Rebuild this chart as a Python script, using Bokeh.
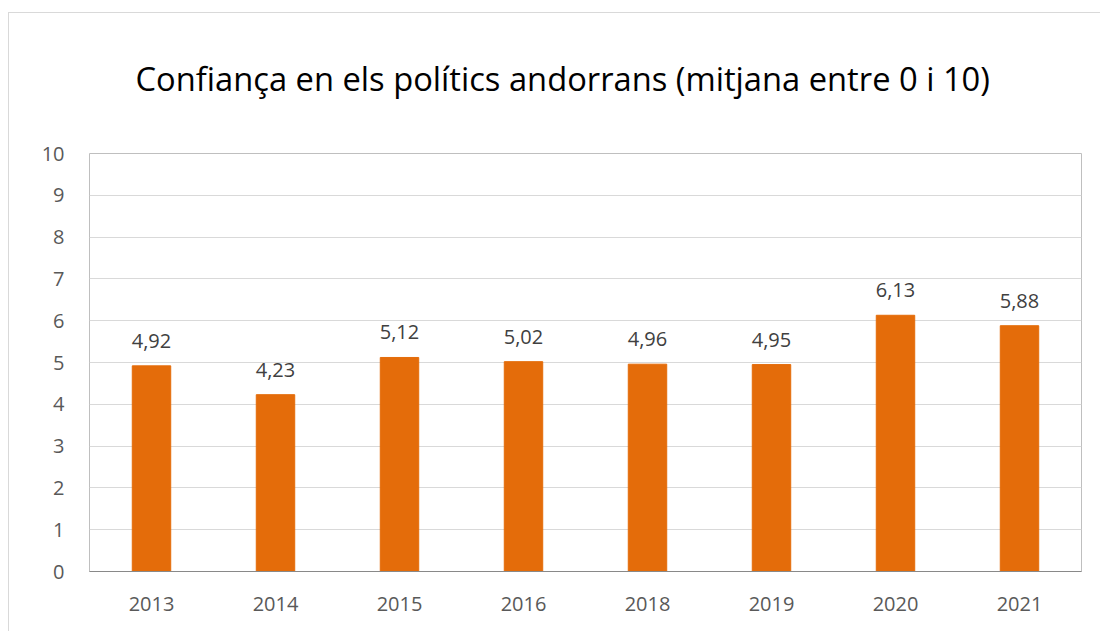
from bokeh.plotting import figure
from bokeh.models import ColumnDataSource, FixedTicker, Range1d, Title
from bokeh.core.properties import value
from bokeh.embed import file_html
from bokeh.resources import INLINE

years = ["2013", "2014", "2015", "2016", "2018", "2019", "2020", "2021"]
means = [4.92, 4.23, 5.12, 5.02, 4.96, 4.95, 6.13, 5.88]
labels = [f"{v:.2f}".replace(".", ",") for v in means]
y_ticks = list(range(0, 11))
title_text = "Confiança en els polítics andorrans (mitjana entre 0 i 10)"

FONT = "Open Sans"
TXT = "#595959"

src = ColumnDataSource(dict(year=years, mean=means, label=labels))

p = figure(
    x_range=years, y_range=Range1d(0, 10),
    width=1092, height=619,
    output_backend="svg", toolbar_location=None,
    title=title_text,
    min_border_left=80, min_border_right=20, min_border_top=140, min_border_bottom=61,
)
p.styles = {"margin-top": "12px", "margin-left": "8px",
            "border-left": "1px solid #d9d9d9", "border-top": "1px solid #d9d9d9"}

p.title.align = "left"
p.title.offset = 46
p.title.standoff = 10
p.title.text_font = FONT
p.title.text_font_size = "32.7px"
p.title.text_font_style = "normal"
p.title.text_color = "#000000"

# blank spacer between the title and the plot frame
p.add_layout(Title(text=" ", text_font=FONT, text_font_size="26px", standoff=10), "above")

p.vbar(x="year", top="mean", width=0.31, source=src, color="#E46C0A")
p.text(x="year", y="mean", text="label", source=src,
       text_align="center", text_baseline="bottom", y_offset=-18,
       text_font=value(FONT), text_font_size="20px", text_color="#404040")

p.outline_line_color = "#bfbfbf"
p.outline_line_width = 1
p.xgrid.grid_line_color = None
p.ygrid.grid_line_color = "#d9d9d9"
p.ygrid.ticker = FixedTicker(ticks=y_ticks)

p.yaxis.ticker = FixedTicker(ticks=y_ticks)
p.yaxis.axis_line_color = None
p.yaxis.major_tick_line_color = None
p.yaxis.minor_tick_line_color = None
p.yaxis.major_label_standoff = 19
p.yaxis.major_label_text_font = FONT
p.yaxis.major_label_text_font_size = "20px"
p.yaxis.major_label_text_color = TXT

p.xaxis.axis_line_color = "#898989"
p.xaxis.axis_line_width = 1
p.xaxis.major_tick_line_color = None
p.xaxis.minor_tick_line_color = None
p.xaxis.major_label_standoff = 19
p.xaxis.major_label_text_font = FONT
p.xaxis.major_label_text_font_size = "20px"
p.xaxis.major_label_text_color = TXT

open("out.html", "w").write(file_html(p, INLINE))
